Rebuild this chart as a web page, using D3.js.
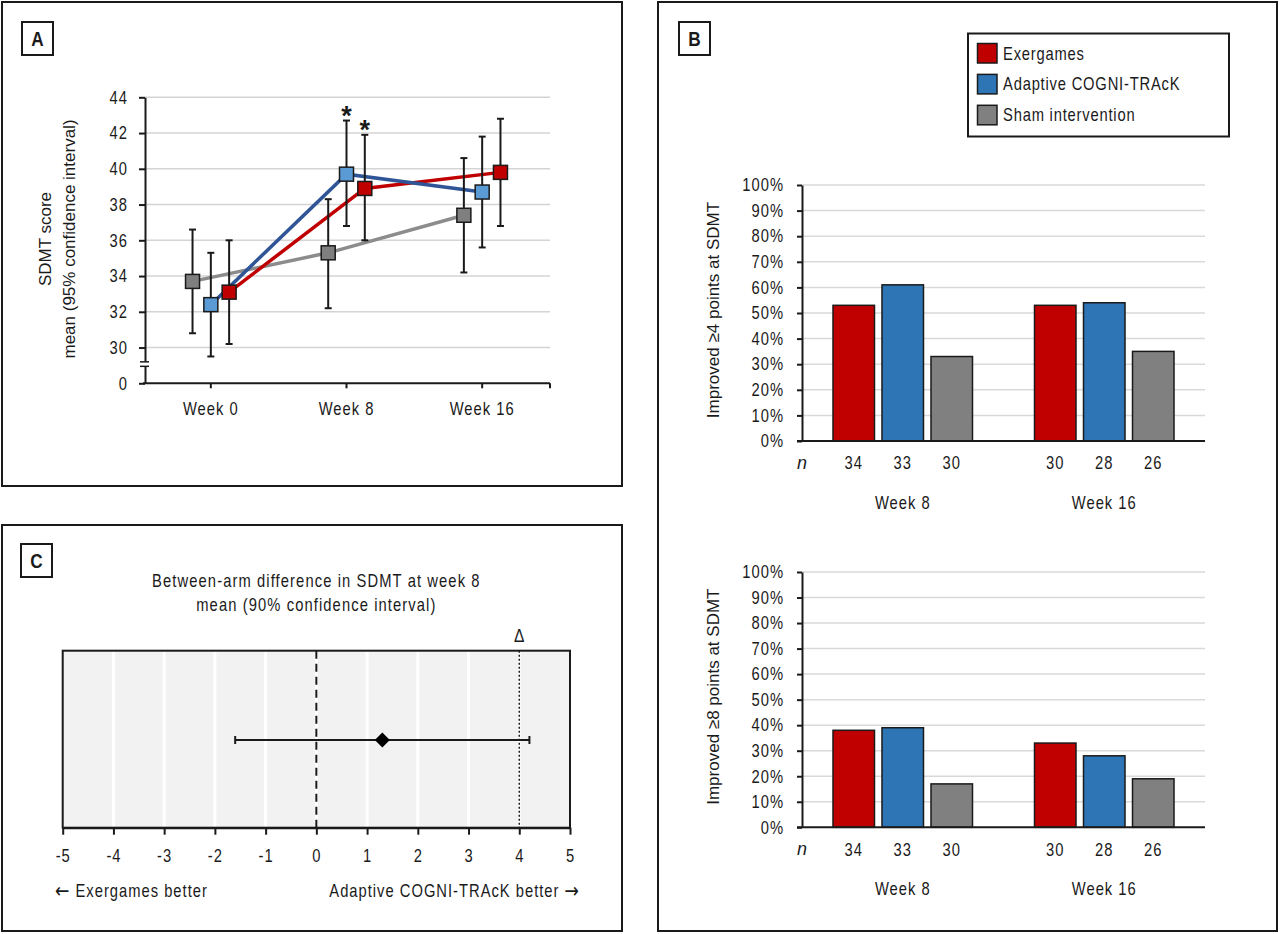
<!DOCTYPE html>
<html>
<head>
<meta charset="utf-8">
<script src="https://cdn.jsdelivr.net/npm/d3@7"></script>
<style>
  body { margin: 0; background: #fff; }
</style>
</head>
<body>
<div id="chart"></div>
<script>
// ---- data ----
const weeks = ["Week 0", "Week 8", "Week 16"];
const arms = ["Exergames", "Adaptive COGNI-TRAcK", "Sham intervention"];

// panel A: SDMT mean and 95% CI
const exergamesMean = [33.1, 38.9, 39.8];
const exergamesLow = [30.2, 36.0, 36.8];
const exergamesHigh = [36.0, 41.9, 42.8];
const cogniMean = [32.4, 39.7, 38.7];
const cogniLow = [29.5, 36.8, 35.6];
const cogniHigh = [35.3, 42.7, 41.8];
const shamMean = [33.7, 35.3, 37.4];
const shamLow = [30.8, 32.2, 34.2];
const shamHigh = [36.6, 38.3, 40.6];
const sdmtTicks = [28, 30, 32, 34, 36, 38, 40, 42, 44];   // 28 sits at the break, printed as 0
const starredWeek8 = ["Adaptive COGNI-TRAcK", "Exergames"];

// panel B: % improved
const barWeeks = ["Week 8", "Week 16"];
const improved4Exergames = [53, 53];
const improved4Cogni = [61, 54];
const improved4Sham = [33, 35];
const improved8Exergames = [38, 33];
const improved8Cogni = [39, 28];
const improved8Sham = [17, 19];
const nExergames = [34, 30];
const nCogni = [33, 28];
const nSham = [30, 26];
const pctTicks = [0, 10, 20, 30, 40, 50, 60, 70, 80, 90, 100];

// panel C: between-arm difference at week 8 (90% CI)
const diffMean = [1.3];
const diffLow = [-1.6];
const diffHigh = [4.2];
const marginDelta = [4];
const diffTicks = [-5, -4, -3, -2, -1, 0, 1, 2, 3, 4, 5];

// ---- styling ----
const FONT = "'Liberation Sans', Arial, sans-serif";
const SQUEEZE = 0.82;          // no narrow face installed, so squeeze the regular one
const INK = "#1a1a1a";
const fill = { "Exergames": "#c00000", "Adaptive COGNI-TRAcK": "#2e75b6", "Sham intervention": "#808080" };
const markerFill = { "Exergames": "#c00000", "Adaptive COGNI-TRAcK": "#5b9bd5", "Sham intervention": "#7f7f7f" };
const lineColor = { "Exergames": "#c00000", "Adaptive COGNI-TRAcK": "#2f5597", "Sham intervention": "#8c8c8c" };
const offset = { "Exergames": 18.3, "Adaptive COGNI-TRAcK": 0, "Sham intervention": -18.3 };

const svg = d3.create("svg")
  .attr("width", 1280)
  .attr("height", 934)
  .attr("viewBox", [0, 0, 1280, 934]);

// narrow text: x is divided by the squeeze so the scale lands it where asked
const text = (g, x, y, s, opts = {}) => g.append("text")
  .attr("x", x / SQUEEZE).attr("y", y)
  .attr("transform", `scale(${SQUEEZE},1)`)
  .attr("font-family", FONT)
  .attr("font-size", opts.size || 18)
  .attr("letter-spacing", (opts.spacing === undefined ? 1 : opts.spacing) / SQUEEZE)
  .attr("text-anchor", opts.anchor || "middle")
  .attr("dominant-baseline", "central")
  .attr("fill", INK)
  .text(s);

const plain = (g, x, y, s, opts = {}) => g.append("text")
  .attr("x", x).attr("y", y)
  .attr("font-family", FONT)
  .attr("font-size", opts.size || 17)
  .attr("text-anchor", opts.anchor || "middle")
  .attr("dominant-baseline", "central")
  .attr("fill", INK)
  .text(s);

const styleAxis = (ax) => {
  ax.selectAll("text")
    .attr("x", function () { return (+d3.select(this).attr("x") || 0) / SQUEEZE; })
    .attr("transform", `scale(${SQUEEZE},1)`)
    .attr("font-family", FONT).attr("font-size", 18)
    .attr("letter-spacing", 1 / SQUEEZE).attr("fill", INK);
  ax.selectAll("line, path").attr("stroke", INK).attr("stroke-width", 2);
};

// panel frames and letters
const frames = [
  { x0: 2, y0: 2, x1: 622, y1: 486, label: "A", lx: 22, ly: 22 },
  { x0: 658, y0: 2, x1: 1277, y1: 931, label: "B", lx: 679, ly: 22 },
  { x0: 2, y0: 525, x1: 622, y1: 931, label: "C", lx: 21, ly: 544 },
];
frames.forEach(f => {
  svg.append("rect").attr("x", f.x0).attr("y", f.y0)
    .attr("width", f.x1 - f.x0).attr("height", f.y1 - f.y0)
    .attr("fill", "none").attr("stroke", INK).attr("stroke-width", 2);
  svg.append("rect").attr("x", f.lx).attr("y", f.ly).attr("width", 31).attr("height", 33)
    .attr("fill", "#fff").attr("stroke", INK).attr("stroke-width", 2);
  text(svg, f.lx + 15.5, f.ly + 17, f.label, { size: 21, spacing: 0 }).attr("font-weight", "bold");
});

/* ------------------------------- panel A ------------------------------- */
const A = svg.append("g");
const xA = d3.scaleBand().domain(weeks).range([143, 550]);
const yA = d3.scaleLinear().domain([28, 44]).range([383.3, 97.3]);
const cx = (w, arm) => xA(w) + xA.bandwidth() / 2 + offset[arm];

A.append("g").selectAll("line").data(sdmtTicks.slice(1)).join("line")
  .attr("x1", 145).attr("x2", 550)
  .attr("y1", d => yA(d)).attr("y2", d => yA(d))
  .attr("stroke", "#d4d4d4").attr("stroke-width", 1.5);

const yAxisA = A.append("g").attr("transform", "translate(145,0)")
  .call(d3.axisLeft(yA).tickValues(sdmtTicks).tickSize(6).tickSizeOuter(0).tickPadding(11)
    .tickFormat(d => d === 28 ? "0" : d));
styleAxis(yAxisA);
// axis break
A.append("rect").attr("x", 140).attr("y", yA(29.2)).attr("width", 10).attr("height", yA(28.95) - yA(29.2)).attr("fill", "#fff");
[29.2, 28.95].forEach(v => A.append("line").attr("x1", 140).attr("x2", 149)
  .attr("y1", yA(v)).attr("y2", yA(v)).attr("stroke", INK).attr("stroke-width", 1.5));

const xAxisA = A.append("g").attr("transform", `translate(0,${yA(28)})`)
  .call(d3.axisBottom(xA).tickSize(5).tickSizeOuter(0).tickPadding(14));
styleAxis(xAxisA);
xAxisA.select(".domain").attr("d", "M143,0H550");
A.append("line").attr("x1", 550).attr("x2", 550).attr("y1", yA(28)).attr("y2", yA(28) + 5)
  .attr("stroke", INK).attr("stroke-width", 2);

const seriesA = [
  { arm: "Sham intervention", mean: shamMean, low: shamLow, high: shamHigh },
  { arm: "Exergames", mean: exergamesMean, low: exergamesLow, high: exergamesHigh },
  { arm: "Adaptive COGNI-TRAcK", mean: cogniMean, low: cogniLow, high: cogniHigh },
];
const line = d3.line().x(d => d.x).y(d => d.y);
seriesA.forEach(s => {
  const pts = weeks.map((w, i) => ({ x: cx(w, s.arm), y: yA(s.mean[i]) }));
  A.append("path").attr("d", line(pts)).attr("fill", "none")
    .attr("stroke", lineColor[s.arm]).attr("stroke-width", 3.5);
});
seriesA.forEach(s => {
  const g = A.append("g");
  weeks.forEach((w, i) => {
    const x = cx(w, s.arm);
    g.append("line").attr("x1", x).attr("x2", x).attr("y1", yA(s.low[i])).attr("y2", yA(s.high[i]))
      .attr("stroke", INK).attr("stroke-width", 2);
    [s.low[i], s.high[i]].forEach(v => g.append("line")
      .attr("x1", x - 3.5).attr("x2", x + 3.5).attr("y1", yA(v)).attr("y2", yA(v))
      .attr("stroke", INK).attr("stroke-width", 2));
  });
});
seriesA.forEach(s => {
  A.append("g").selectAll("rect").data(weeks).join("rect")
    .attr("x", (w) => cx(w, s.arm) - 7)
    .attr("y", (w, i) => yA(s.mean[i]) - 7)
    .attr("width", 14).attr("height", 14)
    .attr("fill", markerFill[s.arm]).attr("stroke", INK).attr("stroke-width", 1.5);
});
// significance stars above week 8 upper CI
seriesA.filter(s => starredWeek8.includes(s.arm)).forEach(s => {
  A.append("text").attr("x", cx("Week 8", s.arm)).attr("y", yA(s.high[1]) + 4)
    .attr("font-family", FONT).attr("font-size", 27).attr("font-weight", "bold")
    .attr("text-anchor", "middle").attr("fill", INK).text("*");
});

// axis title
const titleA = A.append("text")
  .attr("transform", "translate(57,239) rotate(-90)")
  .attr("font-family", FONT).attr("font-size", 17).attr("fill", INK)
  .attr("text-anchor", "middle");
titleA.append("tspan").attr("x", 0).attr("y", -12).attr("dominant-baseline", "central").text("SDMT score");
titleA.append("tspan").attr("x", 0).attr("y", 12.5).attr("dominant-baseline", "central").text("mean (95% confidence interval)");

/* ------------------------------- panel B ------------------------------- */
const xB = d3.scaleBand().domain(barWeeks).range([802, 1205]).paddingInner(0.3077).paddingOuter(0.1538);
const xArm = d3.scaleBand().domain(arms).range([0, xB.bandwidth()]).paddingInner(0.153);

const barPanel = (top, bottom, title, values) => {
  const g = svg.append("g");
  const y = d3.scaleLinear().domain([0, 100]).range([bottom, top]);
  g.append("g").selectAll("line").data(pctTicks.slice(1)).join("line")
    .attr("x1", 802).attr("x2", 1205).attr("y1", d => y(d)).attr("y2", d => y(d))
    .attr("stroke", "#d9d9d9").attr("stroke-width", 1.5);

  values.forEach(s => {
    g.append("g").selectAll("rect").data(barWeeks).join("rect")
      .attr("x", w => xB(w) + xArm(s.arm))
      .attr("y", (w, i) => y(s.v[i]))
      .attr("width", xArm.bandwidth())
      .attr("height", (w, i) => y(0) - y(s.v[i]))
      .attr("fill", fill[s.arm]).attr("stroke", INK).attr("stroke-width", 1.5);
    barWeeks.forEach((w, i) => text(g, xB(w) + xArm(s.arm) + xArm.bandwidth() / 2, y(0) + 21.7, s.n[i]));
  });

  const ax = g.append("g").attr("transform", "translate(802,0)")
    .call(d3.axisLeft(y).tickValues(pctTicks).tickSize(5).tickSizeOuter(0).tickPadding(13).tickFormat(d => d + "%"));
  styleAxis(ax);
  g.append("line").attr("x1", 797).attr("x2", 1205).attr("y1", y(0)).attr("y2", y(0))
    .attr("stroke", INK).attr("stroke-width", 2);

  plain(g, 802, y(0) + 21.7, "n", { size: 18 }).attr("font-style", "italic");
  barWeeks.forEach(w => text(g, xB(w) + xB.bandwidth() / 2, y(0) + 61.3, w));

  g.append("text").attr("transform", `translate(713,${(top + bottom) / 2 - 3}) rotate(-90)`)
    .attr("font-family", FONT).attr("font-size", 17).attr("fill", INK)
    .attr("text-anchor", "middle").attr("dominant-baseline", "central").text(title);
};

barPanel(185, 441, "Improved \u22654 points at SDMT", [
  { arm: arms[0], v: improved4Exergames, n: nExergames },
  { arm: arms[1], v: improved4Cogni, n: nCogni },
  { arm: arms[2], v: improved4Sham, n: nSham },
]);
barPanel(572, 827.3, "Improved \u22658 points at SDMT", [
  { arm: arms[0], v: improved8Exergames, n: nExergames },
  { arm: arms[1], v: improved8Cogni, n: nCogni },
  { arm: arms[2], v: improved8Sham, n: nSham },
]);

// legend
const legend = svg.append("g");
legend.append("rect").attr("x", 968).attr("y", 33.5).attr("width", 261).attr("height", 103)
  .attr("fill", "#fff").attr("stroke", INK).attr("stroke-width", 2);
arms.forEach((arm, i) => {
  const yy = 43.5 + i * 30.9;
  legend.append("rect").attr("x", 977.5).attr("y", yy).attr("width", 19.5).attr("height", 19.5)
    .attr("fill", fill[arm]).attr("stroke", INK).attr("stroke-width", 1.5);
  text(legend, 1003, yy + 9.5, arm, { anchor: "start", spacing: 0.8 });
});

/* ------------------------------- panel C ------------------------------- */
const C = svg.append("g");
const xC = d3.scaleLinear().domain([-5, 5]).range([62.7, 570]);
const cTop = 650.7, cBottom = 827.7, cMid = 740;

text(C, xC(0), 580.7, "Between-arm difference in SDMT at week 8", { spacing: 1.1 });
text(C, xC(0), 604, "mean (90% confidence interval)", { spacing: 1.1 });

C.append("rect").attr("x", xC(-5)).attr("y", cTop).attr("width", xC(5) - xC(-5)).attr("height", cBottom - cTop)
  .attr("fill", "#f2f2f2");
C.append("g").selectAll("line").data(diffTicks.slice(1, -1)).join("line")
  .attr("x1", d => xC(d)).attr("x2", d => xC(d)).attr("y1", cTop).attr("y2", cBottom)
  .attr("stroke", "#fff").attr("stroke-width", 3);
C.append("line").attr("x1", xC(0)).attr("x2", xC(0)).attr("y1", cTop).attr("y2", cBottom)
  .attr("stroke", INK).attr("stroke-width", 2).attr("stroke-dasharray", "8,5");
C.append("line").attr("x1", xC(marginDelta[0])).attr("x2", xC(marginDelta[0])).attr("y1", cTop).attr("y2", cBottom)
  .attr("stroke", INK).attr("stroke-width", 1.5).attr("stroke-dasharray", "2,2");
text(C, xC(marginDelta[0]), 635, "\u0394", { spacing: 0, size: 19 });

C.append("line").attr("x1", xC(diffLow[0])).attr("x2", xC(diffHigh[0])).attr("y1", cMid).attr("y2", cMid)
  .attr("stroke", INK).attr("stroke-width", 2);
[diffLow[0], diffHigh[0]].forEach(v => C.append("line")
  .attr("x1", xC(v)).attr("x2", xC(v)).attr("y1", cMid - 4).attr("y2", cMid + 4)
  .attr("stroke", INK).attr("stroke-width", 2));
C.append("path").attr("d", d3.symbol(d3.symbolSquare, 112)())
  .attr("transform", `translate(${xC(diffMean[0])},${cMid}) rotate(45)`)
  .attr("fill", "#000");

C.append("rect").attr("x", xC(-5)).attr("y", cTop).attr("width", xC(5) - xC(-5)).attr("height", cBottom - cTop)
  .attr("fill", "none").attr("stroke", INK).attr("stroke-width", 2);
const xAxisC = C.append("g").attr("transform", `translate(0,${cBottom})`)
  .call(d3.axisBottom(xC).tickValues(diffTicks).tickSize(7).tickSizeOuter(0).tickPadding(15)
    .tickFormat(d => String(d)));
styleAxis(xAxisC);

// direction notes, arrows set in a face with full-width arrow glyphs
const leftNote = text(C, 55, 890, "", { anchor: "start" });
leftNote.append("tspan").attr("font-family", "'DejaVu Sans', sans-serif").attr("font-size", 21).text("\u2190");
leftNote.append("tspan").text(" Exergames better");
const rightNote = text(C, 580, 890, "", { anchor: "end" });
rightNote.append("tspan").text("Adaptive COGNI-TRAcK better ");
rightNote.append("tspan").attr("font-family", "'DejaVu Sans', sans-serif").attr("font-size", 21).text("\u2192");

document.getElementById("chart").append(svg.node());
</script>
</body>
</html>
